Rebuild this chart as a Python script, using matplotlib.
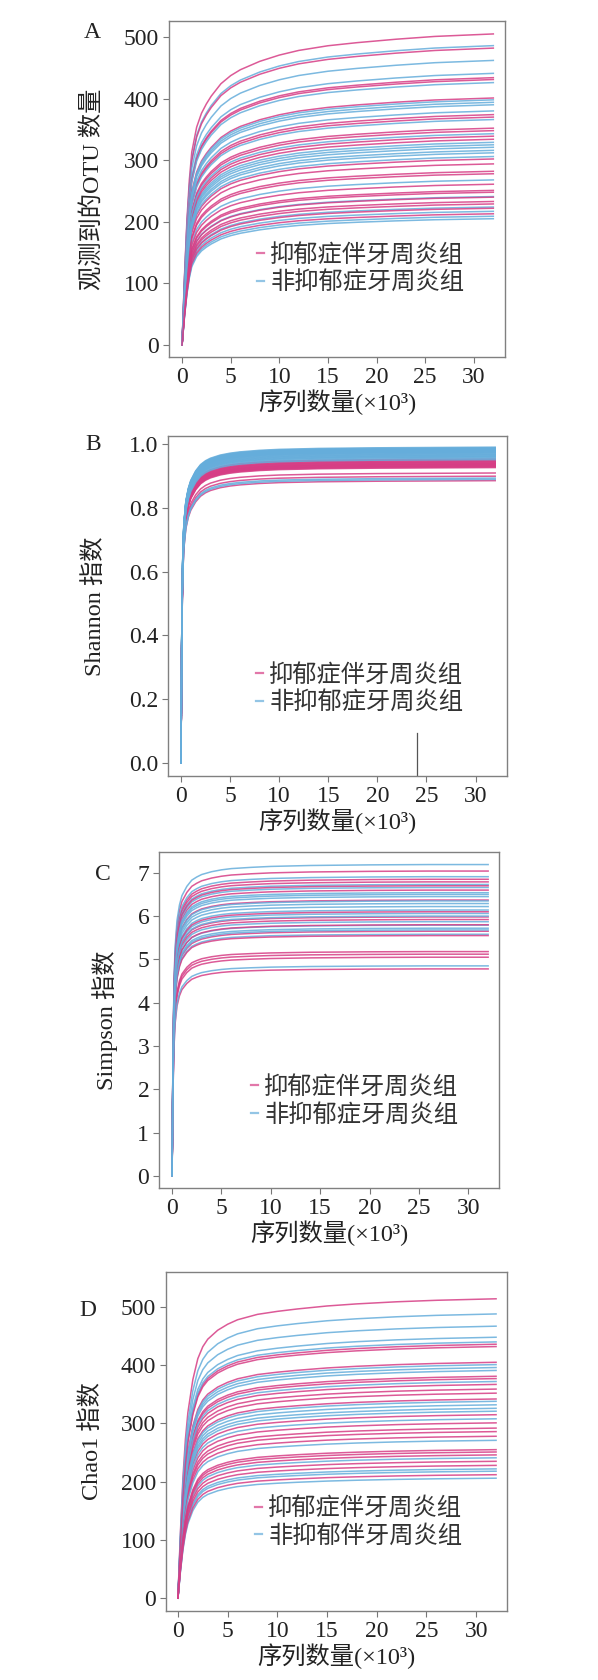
# Rarefaction curves (OTU, Shannon, Simpson, Chao1) for the two groups, four stacked panels
import numpy as np
import matplotlib
matplotlib.use('Agg')
import matplotlib.pyplot as plt
from matplotlib.lines import Line2D

plt.rcParams['font.family'] = ['Liberation Serif', 'Noto Sans CJK SC', 'DejaVu Sans']

# Sampling depths (x10^3) at which the curve shape was read
depth_steep = [0, 0.1, 0.2, 0.3, 0.5, 0.75, 1, 1.5, 2, 2.5, 3, 4, 5, 6, 8, 10, 14, 20, 26, 32]
depth_slow = [0, 0.25, 0.5, 0.75, 1, 1.5, 2, 2.5, 3, 4, 5, 6, 8, 10, 12, 15, 18, 22, 26, 32]

# Shape of the curves (fraction of the final value)
shape_a = [0, 0.22, 0.40, 0.53, 0.62, 0.70, 0.745, 0.775, 0.80, 0.84, 0.866, 0.885,
           0.912, 0.932, 0.947, 0.962, 0.972, 0.983, 0.992, 1.0]
shape_b = [0, 0.50, 0.68, 0.76, 0.83, 0.87, 0.895, 0.925, 0.945, 0.957, 0.965, 0.975,
           0.981, 0.985, 0.990, 0.993, 0.996, 0.998, 0.999, 1.0]
shape_c = [0, 0.42, 0.62, 0.73, 0.82, 0.87, 0.90, 0.93, 0.95, 0.96, 0.968, 0.977,
           0.983, 0.987, 0.991, 0.994, 0.997, 0.999, 1.0, 1.0]
shape_d = [0, 0.22, 0.40, 0.53, 0.62, 0.73, 0.80, 0.84, 0.865, 0.895, 0.915, 0.93,
           0.948, 0.958, 0.966, 0.976, 0.983, 0.99, 0.995, 1.0]

# Final values (at 32 x10^3 reads) of each sample curve
otu_dep = [505, 482, 434, 431, 401, 374, 370, 352, 348, 339, 334, 302, 294, 282,
           278, 261, 251, 248, 233, 229, 213, 222, 240]
otu_ctrl = [486, 462, 441, 426, 398, 394, 390, 366, 329, 325, 321, 316, 306, 268,
            241, 224, 217, 209, 205, 312, 343, 380]

shannon_dep = [0.948, 0.945, 0.942, 0.940, 0.938, 0.936, 0.934, 0.932, 0.930, 0.928,
               0.926, 0.950, 0.953, 0.944, 0.909, 0.899, 0.885, 0.937, 0.931]
shannon_ctrl = [0.990, 0.988, 0.986, 0.985, 0.984, 0.983, 0.982, 0.981, 0.980, 0.978,
                0.977, 0.975, 0.974, 0.972, 0.970, 0.968, 0.966, 0.964, 0.962, 0.960,
                0.958, 0.955, 0.951, 0.893, 0.889]

simpson_dep = [7.04, 6.85, 6.79, 6.60, 6.37, 5.98, 5.92, 5.65, 5.18, 5.12, 5.05, 4.78,
               6.70, 6.10, 5.80, 5.55]
simpson_ctrl = [7.19, 6.91, 6.73, 6.66, 6.54, 6.45, 6.29, 6.22, 6.14, 6.06, 5.87, 5.79,
                5.72, 5.58, 4.85, 6.50, 6.35, 6.00, 5.68]

chao1_dep = [514, 436, 405, 381, 377, 367, 359, 352, 342, 315, 301, 292, 286, 278,
             255, 251, 246, 235, 228, 212, 432]
chao1_ctrl = [488, 467, 448, 440, 401, 396, 391, 372, 338, 332, 326, 321, 308, 271,
              241, 222, 218, 206]

xticks = [0, 5, 10, 15, 20, 25, 30]
xlabel = '序列数量(×10³)'

pink = '#d63d85'
blue = '#65addb'

panels = [
    dict(letter='A', ylabel='观测到的OTU 数量', dep=otu_dep, ctrl=otu_ctrl,
         depth=depth_slow, shape=shape_a,
         yticks=[0, 100, 200, 300, 400, 500], yfmt='{:d}',
         labels=['抑郁症伴牙周炎组', '非抑郁症牙周炎组'],
         rect=[169, 21, 505, 357], xlim=(-1.34, 33.2), ylim=(-19.5, 526),
         leg=(0.262, 0.262), letter_xy=(92, 33), ylab_x=93),
    dict(letter='B', ylabel='Shannon 指数', dep=shannon_dep, ctrl=shannon_ctrl,
         depth=depth_steep, shape=shape_b,
         yticks=[0.0, 0.2, 0.4, 0.6, 0.8, 1.0], yfmt='{:.1f}',
         labels=['抑郁症伴牙周炎组', '非抑郁症牙周炎组'],
         rect=[168, 436, 507, 776], xlim=(-1.32, 33.2), ylim=(-0.041, 1.025),
         leg=(0.259, 0.256), letter_xy=(93, 445), ylab_x=95),
    dict(letter='C', ylabel='Simpson 指数', dep=simpson_dep, ctrl=simpson_ctrl,
         depth=depth_steep, shape=shape_c,
         yticks=[0, 1, 2, 3, 4, 5, 6, 7], yfmt='{:d}',
         labels=['抑郁症伴牙周炎组', '非抑郁症牙周炎组'],
         rect=[159, 852, 499, 1188], xlim=(-1.32, 33.1), ylim=(-0.28, 7.48),
         leg=(0.270, 0.258), letter_xy=(103, 874), ylab_x=105),
    dict(letter='D', ylabel='Chao1 指数', dep=chao1_dep, ctrl=chao1_ctrl,
         depth=depth_slow, shape=shape_d,
         yticks=[0, 100, 200, 300, 400, 500], yfmt='{:d}',
         labels=['抑郁症伴牙周炎组', '非抑郁伴牙周炎组'],
         rect=[166, 1272, 507, 1611], xlim=(-1.2, 33.1), ylim=(-22, 560),
         leg=(0.261, 0.261), letter_xy=(88, 1311), ylab_x=92),
]

W, H = 598, 1680
fig = plt.figure(figsize=(W / 100, H / 100), dpi=100)

for p in panels:
    l, t, r, b = p['rect']
    ax = fig.add_axes([l / W, 1 - b / H, (r - l) / W, (b - t) / H])

    # curves: alternate the two groups so the colours mix like in the figure
    depth = np.array(p['depth'])
    shape = np.array(p['shape'])
    n = max(len(p['dep']), len(p['ctrl']))
    for i in range(n):
        if i < len(p['dep']):
            ax.plot(depth, p['dep'][i] * shape, color=pink, lw=1.1, alpha=0.85)
        if i < len(p['ctrl']):
            ax.plot(depth, p['ctrl'][i] * shape, color=blue, lw=1.1, alpha=0.85)

    # stray mark at the bottom of panel B
    if p['letter'] == 'B':
        ax.plot([24, 24], [p['ylim'][0], 0.094], color='#555555', lw=0.9)

    ax.set_xlim(*p['xlim'])
    ax.set_ylim(*p['ylim'])
    ax.set_xticks(xticks)
    ax.set_xticklabels([str(v) for v in xticks])
    ax.set_yticks(p['yticks'])
    ax.set_yticklabels([p['yfmt'].format(v) for v in p['yticks']])
    ax.tick_params(direction='out', length=4, width=0.8, color='#777777',
                   labelsize=17, labelcolor='#222222', pad=3)
    for s in ax.spines.values():
        s.set_color('#808080')
        s.set_linewidth(1.0)

    ax.set_xlabel(xlabel, fontsize=17.5, color='#222222', labelpad=1)

    # y label and panel letter placed in figure pixels
    fig.text(p['ylab_x'] / W, 1 - ((t + b) / 2) / H, p['ylabel'], rotation=90,
             ha='center', va='center', fontsize=17.5, color='#222222')
    fig.text(p['letter_xy'][0] / W, 1 - p['letter_xy'][1] / H, p['letter'],
             ha='center', va='center', fontsize=17, color='#222222')

    handles = [Line2D([], [], color=pink, lw=1.6, alpha=0.7),
               Line2D([], [], color=blue, lw=1.6, alpha=0.7)]
    ax.legend(handles, p['labels'], loc='center left', bbox_to_anchor=p['leg'],
              frameon=False, fontsize=17.5, handlelength=0.3, handletextpad=0.25,
              labelspacing=0.2, borderpad=0, borderaxespad=0, labelcolor='#333333')

fig.savefig('out.png', dpi=100)
